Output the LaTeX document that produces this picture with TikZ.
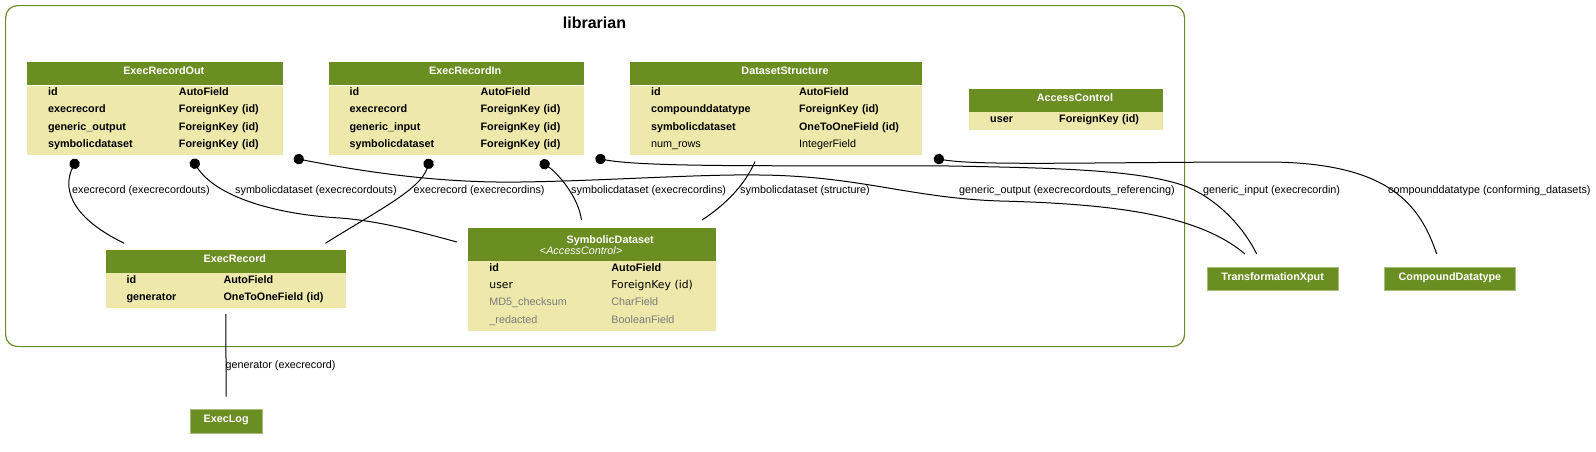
\documentclass[tikz,border=0pt]{standalone}
\usepackage{fontspec}
\setmainfont{Liberation Sans}
\newfontfamily\dejavu{DejaVu Sans}
\usepackage{tikz}
\usetikzlibrary{arrows.meta,positioning,calc}
\definecolor{Olive}{HTML}{6B8E23}
\definecolor{OliveLine}{HTML}{A6BC7B}
\definecolor{PaleGold}{HTML}{EEE8AA}
\definecolor{Muted}{HTML}{7B7B7B}
\newcommand{\fld}[3][131pt]{\rule[-7.5pt]{0pt}{17.3pt}\hspace*{21pt}\makebox[#1][l]{#2}\mbox{#3}}
\newcommand{\hd}[1]{\hspace*{18pt}#1}

\begin{document}
\begin{tikzpicture}[
  x=1pt, y=-1pt,
  every node/.style={font=\fontsize{10.8}{13}\selectfont},
  band/.style={fill=Olive,text=white,inner sep=0pt,font=\bfseries\fontsize{10.8}{11}\selectfont},
  hdr/.style={band,anchor=north west,text height=13pt,text depth=10.3pt},
  model/.style={band,draw=OliveLine,line width=0.8pt,anchor=north west,minimum width=131pt,text height=13pt,text depth=10.3pt},
  body/.style={fill=PaleGold,inner sep=0pt,align=left,font=\bfseries\fontsize{10.8}{17.3}\selectfont},
  cluster/.style={draw=Olive,line width=1.2pt,rounded corners=12pt,anchor=north west,inner sep=0pt},
  lbl/.style={anchor=base west,inner sep=0pt},
  fk/.style={{Circle[length=10.5pt]}-,line width=1pt},
  rel/.style={line width=1pt}
]
\useasboundingbox (0,0) rectangle (1596,451);
\node[cluster,minimum width=1179pt,minimum height=341pt] (librarian) at (5,5) {};
\node[font=\bfseries\fontsize{16}{18}\selectfont] (librarian-title) at (594.5,22.4) {librarian};

\node[hdr,minimum width=255.6pt] (ero-h) at (26.8,61.7) {\hd{ExecRecordOut}};
\node[body,text width=255.6pt,below=0pt of ero-h] (ero-b) {\fld{id}{AutoField}\\\fld{execrecord}{ForeignKey (id)}\\\fld{generic\_output}{ForeignKey (id)}\\\fld{symbolicdataset}{ForeignKey (id)}};
\node[hdr,minimum width=255.2pt] (eri-h) at (328.4,61.7) {\hd{ExecRecordIn}};
\node[body,text width=255.2pt,below=0pt of eri-h] (eri-b) {\fld{id}{AutoField}\\\fld{execrecord}{ForeignKey (id)}\\\fld{generic\_input}{ForeignKey (id)}\\\fld{symbolicdataset}{ForeignKey (id)}};
\node[hdr,minimum width=292pt] (ds-h) at (629.8,61.7) {\hd{DatasetStructure}};
\node[body,text width=292pt,below=0pt of ds-h] (ds-b) {\fld[148pt]{id}{AutoField}\\\fld[148pt]{compounddatatype}{ForeignKey (id)}\\\fld[148pt]{symbolicdataset}{OneToOneField (id)}\\\fld[148pt]{\mdseries num\_rows}{\mdseries IntegerField}};
\node[hdr,minimum width=193.5pt] (ac-h) at (969,88.3) {\hd{AccessControl}};
\node[body,text width=193.5pt,below=0pt of ac-h] (ac-b) {\fld[69pt]{user}{ForeignKey (id)}};
\node[hdr,minimum width=240.7pt] (er-h) at (105.3,249.3) {\hd{ExecRecord}};
\node[body,text width=240.7pt,below=0pt of er-h] (er-b) {\fld[97pt]{id}{AutoField}\\\fld[97pt]{generator}{OneToOneField (id)}};
\node[band,anchor=north west,minimum width=247.6pt,minimum height=32.5pt,align=center] (sd-h) at (468.2,228.2) {\hspace*{36pt}SymbolicDataset\\{\mdseries<\textit{AccessControl}>}\hspace*{22pt}};
\node[body,text width=247.6pt,below=0pt of sd-h] (sd-b) {\fld[122pt]{id}{AutoField}\\\fld[122pt]{\mdseries\dejavu user}{\mdseries\dejavu ForeignKey (id)}\\\fld[122pt]{\mdseries\color{Muted}MD5\_checksum}{\mdseries\color{Muted}CharField}\\\fld[122pt]{\mdseries\color{Muted}\_redacted}{\mdseries\color{Muted}BooleanField}};

\node[model] (tx) at (1206.7,266.7) {TransformationXput};
\node[model] (cd) at (1384,266.7) {CompoundDatatype};
\node[model,minimum width=72.5pt] (el) at (189.5,409.3) {ExecLog};

\node[lbl] (l-ero-er) at (72,193.3) {execrecord (execrecordouts)};
\node[lbl] (l-ero-sd) at (235,193.3) {symbolicdataset (execrecordouts)};
\node[lbl] (l-eri-er) at (413.5,193.3) {execrecord (execrecordins)};
\node[lbl] (l-eri-sd) at (571,193.3) {symbolicdataset (execrecordins)};
\node[lbl] (l-ds-sd) at (740,193.3) {symbolicdataset (structure)};
\node[lbl] (l-ero-tx) at (959,193.3) {generic\_output (execrecordouts\_referencing)};
\node[lbl] (l-eri-tx) at (1203,193.3) {generic\_input (execrecordin)};
\node[lbl] (l-ds-cd) at (1388,193.3) {compounddatatype (conforming\_datasets)};
\node[lbl] (l-er-el) at (225.5,368.5) {generator (execrecord)};

\draw[fk] ($(ero-b.south west)+(50.1,4.1)$) .. controls (64,185) and (66,215) .. ($(er-h.north west)+(19,-6)$);
\draw[fk] ($(ero-b.south west)+(165.2,4.3)$) .. controls (215,195) and (270,214) .. (340,218) .. controls (380,221) and (420,232) .. ($(sd-h.north west)+(-11.2,13.8)$);
\draw[fk] ($(eri-b.south west)+(101.8,3.8)$) .. controls (420,190) and (375,212) .. ($(er-h.north west)+(220.1,-6)$);
\draw[fk] ($(eri-b.south west)+(211.9,6.2)$) .. controls (556,172) and (578,195) .. ($(sd-h.north west)+(113.3,-8.2)$);
\draw[rel] ($(ds-b.south west)+(125.2,6.5)$) .. controls (745,185) and (725,205) .. ($(sd-h.north west)+(233.8,-8.2)$);
\draw[fk] ($(ero-b.south east)+(10.8,3.1)$) .. controls (380,175) and (450,183) .. (520,182) .. controls (600,181) and (700,174) .. (760,175) .. controls (860,176) and (910,198) .. (1000,201) .. controls (1120,204) and (1200,216) .. ($(tx.north west)+(38.3,-12.7)$);
\draw[fk] ($(eri-b.south east)+(11.3,3.1)$) .. controls (650,168) and (800,165) .. (950,166) .. controls (1060,168) and (1140,170) .. (1185,186) .. controls (1220,200) and (1245,230) .. ($(tx.north west)+(50,-12.7)$);
\draw[fk] ($(ds-b.south east)+(11.5,3.2)$) .. controls (980,166) and (1100,162) .. (1270,162) .. controls (1390,163) and (1420,205) .. ($(cd.north west)+(52.7,-12.7)$);
\draw[rel,shorten <=6pt,shorten >=12.6pt] (er-b.south) -- (el.north);
\end{tikzpicture}
\end{document}
